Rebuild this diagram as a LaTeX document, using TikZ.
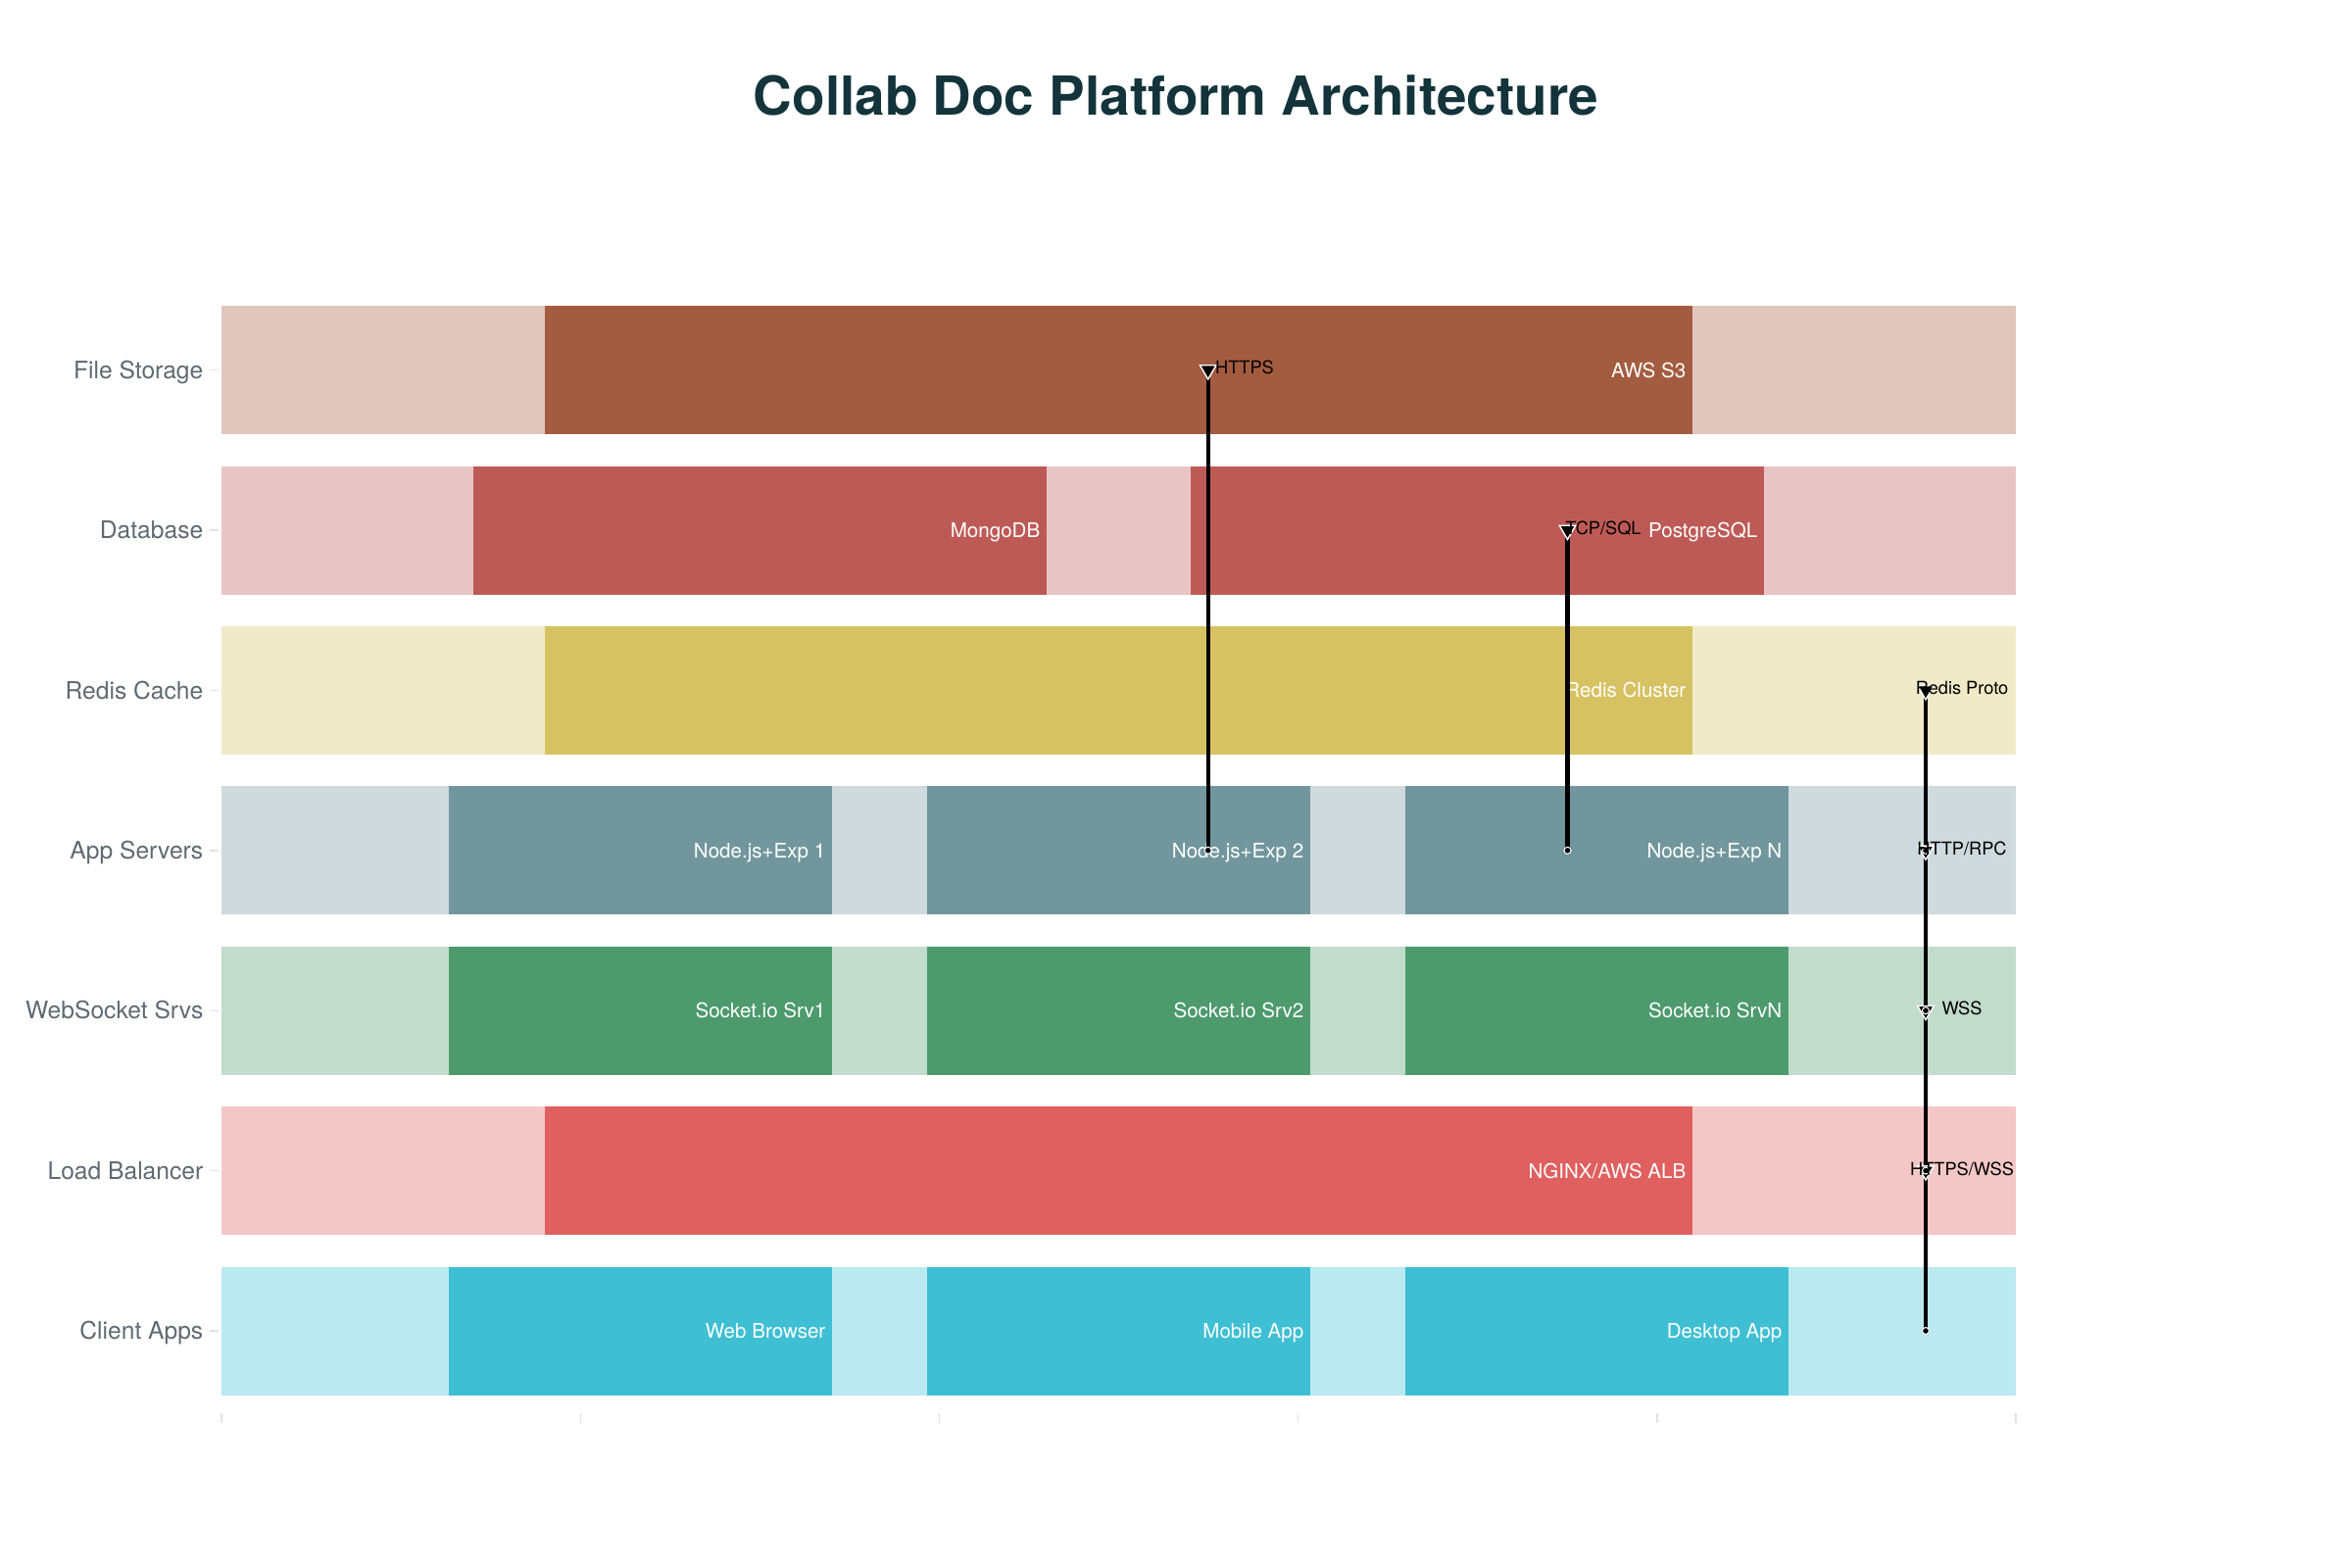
\documentclass[tikz,border=0pt]{standalone}
\usepackage{fontspec}
\setmainfont{TeX Gyre Heros}
\usetikzlibrary{shapes.geometric}

\definecolor{titlec}{HTML}{13343B}
\definecolor{axisc}{HTML}{5E6A71}
\definecolor{tickc}{HTML}{E2E2E2}
\definecolor{fsc}{HTML}{A45C40}
\definecolor{dbc}{HTML}{BE5A56}
\definecolor{rdc}{HTML}{D6C262}
\definecolor{apc}{HTML}{72969D}
\definecolor{wsc}{HTML}{4D9A6D}
\definecolor{lbc}{HTML}{E05F5F}
\definecolor{clc}{HTML}{3EBFD4}

\begin{document}
\begin{tikzpicture}[
    x=0.01cm, y=-0.01cm,
    rowlabel/.style={anchor=base east, text=axisc, inner sep=0pt, font=\fontsize{7}{8}\selectfont},
    barlabel/.style={anchor=base east, text=white, inner sep=0pt, font=\fontsize{5.85}{7}\selectfont},
    linklabel/.style={anchor=base, text=black, inner sep=0pt, font=\fontsize{5.18}{6}\selectfont},
    link/.style={line width=1.2pt, black},
    tipmark/.style={regular polygon, regular polygon sides=3, shape border rotate=180,
                    fill=black, draw=white, line width=0.4pt, minimum size=0.19cm, inner sep=0pt},
    dotmark/.style={circle, fill=black, draw=white, line width=0.3pt, minimum size=0.07cm, inner sep=0pt}
]
  \useasboundingbox (0,0) rectangle (2400,1600);

  % 标题
  \node[anchor=base, text=titlec, inner sep=0pt, font=\fontsize{15.6}{19}\selectfont\bfseries]
    (title) at (1200,118) {Collab Doc Platform Architecture};

  % 各层背景
  \fill[fsc!35!white] (226,312) rectangle (2057,443);
  \fill[dbc!35!white] (226,475.5) rectangle (2057,606.5);
  \fill[rdc!35!white] (226,638.9) rectangle (2057,769.9);
  \fill[apc!35!white] (226,802.3) rectangle (2057,933.3);
  \fill[wsc!35!white] (226,965.7) rectangle (2057,1096.7);
  \fill[lbc!35!white] (226,1129.1) rectangle (2057,1260.1);
  \fill[clc!35!white] (226,1292.5) rectangle (2057,1423.5);

  % 各层组件
  \fill[fsc] (555.9,312) rectangle (1727.1,443);
  \fill[dbc] (482.7,475.5) rectangle (1068.3,606.5);
  \fill[dbc] (1214.7,475.5) rectangle (1800.3,606.5);
  \fill[rdc] (555.9,638.9) rectangle (1727.1,769.9);
  \fill[apc] (458.3,802.3) rectangle (848.7,933.3);
  \fill[apc] (946.3,802.3) rectangle (1336.7,933.3);
  \fill[apc] (1434.3,802.3) rectangle (1824.7,933.3);
  \fill[wsc] (458.3,965.7) rectangle (848.7,1096.7);
  \fill[wsc] (946.3,965.7) rectangle (1336.7,1096.7);
  \fill[wsc] (1434.3,965.7) rectangle (1824.7,1096.7);
  \fill[lbc] (555.9,1129.1) rectangle (1727.1,1260.1);
  \fill[clc] (458.3,1292.5) rectangle (848.7,1423.5);
  \fill[clc] (946.3,1292.5) rectangle (1336.7,1423.5);
  \fill[clc] (1434.3,1292.5) rectangle (1824.7,1423.5);

  % 组件名称
  \node[barlabel] (s3) at (1721,385) {AWS S3};
  \node[barlabel] (mongo) at (1062,548.5) {MongoDB};
  \node[barlabel] (pg) at (1794,548.5) {PostgreSQL};
  \node[barlabel] (redis) at (1721,711.9) {Redis Cluster};
  \node[barlabel] (app1) at (843,875.3) {Node.js+Exp 1};
  \node[barlabel] (app2) at (1331,875.3) {Node.js+Exp 2};
  \node[barlabel] (appn) at (1819,875.3) {Node.js+Exp N};
  \node[barlabel] (ws1) at (843,1038.7) {Socket.io Srv1};
  \node[barlabel] (ws2) at (1331,1038.7) {Socket.io Srv2};
  \node[barlabel] (wsn) at (1819,1038.7) {Socket.io SrvN};
  \node[barlabel] (alb) at (1721,1202.1) {NGINX/AWS ALB};
  \node[barlabel] (web) at (843,1365.5) {Web Browser};
  \node[barlabel] (mobile) at (1331,1365.5) {Mobile App};
  \node[barlabel] (desktop) at (1819,1365.5) {Desktop App};

  % 纵轴标签
  \node[rowlabel] (fs) at (208,386.2) {File Storage};
  \node[rowlabel] (db) at (208,549.7) {Database};
  \node[rowlabel] (rc) at (208,713.1) {Redis Cache};
  \node[rowlabel] (as) at (208,876.5) {App Servers};
  \node[rowlabel] (wss) at (208,1039.9) {WebSocket Srvs};
  \node[rowlabel] (lb) at (208,1203.3) {Load Balancer};
  \node[rowlabel] (ca) at (208,1366.7) {Client Apps};
  \foreach \y in {377.5,541,704.4,867.8,1031.2,1194.6,1358}
    \draw[tickc, line width=0.4pt] (214,\y) -- (223,\y);

  % 横轴刻度
  \foreach \x in {226,592.2,958.4,1324.6,1690.8,2057}
    \draw[tickc, line width=0.4pt] (\x,1442) -- (\x,1452);

  % 连接线端点
  \coordinate (a1) at (1232.7,867.8);
  \coordinate (a2) at (1232.7,377.5);
  \coordinate (b1) at (1599.5,867.8);
  \coordinate (b2) at (1599.5,541);
  \coordinate (c1) at (1965,1358);
  \coordinate (c2) at (1965,1194.6);
  \coordinate (c3) at (1965,1031.2);
  \coordinate (c4) at (1965,867.8);
  \coordinate (c5) at (1965,704.4);

  % 绘制连接线
  \draw[link] (a1) -- (a2);
  \draw[link] (b1) -- (b2);
  \draw[link] (c1) -- (c2) -- (c3) -- (c4) -- (c5);

  % 端点标记
  \node[dotmark] (a1m) at (a1) {};
  \node[tipmark] (a2m) at (a2) {};
  \node[dotmark] (b1m) at (b1) {};
  \node[tipmark] (b2m) at (b2) {};
  \node[dotmark] (c1m) at (c1) {};
  \node[tipmark] (c2t) at (c2) {};
  \node[dotmark] (c2m) at (c2) {};
  \node[tipmark] (c3t) at (c3) {};
  \node[dotmark] (c3m) at (c3) {};
  \node[tipmark] (c4t) at (c4) {};
  \node[dotmark] (c4m) at (c4) {};
  \node[tipmark] (c5m) at (c5) {};

  % 协议标签
  \node[linklabel] (https) at (1270,381.7) {HTTPS};
  \node[linklabel] (tcp) at (1636,545.5) {TCP/SQL};
  \node[linklabel] (hw) at (2002,1199) {HTTPS/WSS};
  \node[linklabel] (wsl) at (2002,1035.6) {WSS};
  \node[linklabel] (rpc) at (2002,872.2) {HTTP/RPC};
  \node[linklabel] (rproto) at (2002,708.8) {Redis Proto};

\end{tikzpicture}
\end{document}
